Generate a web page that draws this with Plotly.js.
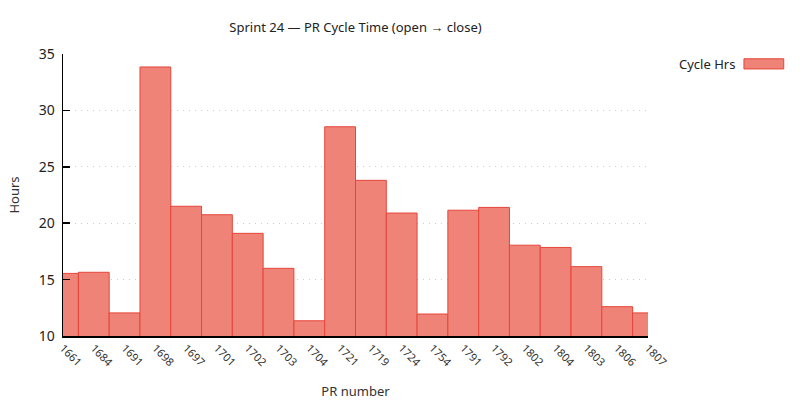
<!DOCTYPE html>
<html>
<head>
<meta charset="utf-8">
<script src="https://cdn.plot.ly/plotly-3.0.1.min.js"></script>
<style>
  html, body { margin: 0; padding: 0; background: #fff; }
  #myDiv { width: 800px; height: 400px; }
</style>
</head>
<body>
<div id="myDiv"></div>
<script>
// PR numbers, in the order shown on the axis
var prNumbers = ['1661', '1684', '1691', '1698', '1697', '1701', '1702', '1703', '1704', '1721',
                 '1719', '1724', '1754', '1791', '1792', '1802', '1804', '1803', '1806', '1807'];
// cycle time in hours (open -> close)
var cycleHrs = [15.55, 15.65, 12.05, 33.85, 21.5, 20.75, 19.1, 16.0, 11.35, 28.55,
                23.8, 20.9, 11.95, 21.15, 21.4, 18.05, 17.85, 16.15, 12.6, 12.05];
var seriesName = 'Cycle Hrs';

var fillColor = '#EF8377';
var edgeColor = '#E5463A';
var font = 'Noto Sans, Open Sans, sans-serif';

var trace1 = {
    type: 'bar',
    name: seriesName,
    x: prNumbers,
    y: cycleHrs,
    marker: {color: fillColor, line: {color: edgeColor, width: 1}},
    showlegend: false,
    hoverinfo: 'x+y'
};

var layout = {
    width: 800,
    height: 400,
    margin: {l: 63, r: 152, t: 54, b: 64},
    paper_bgcolor: '#fff',
    plot_bgcolor: '#fff',
    font: {family: font, size: 13, color: '#222'},
    bargap: 0,
    title: {
        text: 'Sprint 24 — PR Cycle Time (open → close)',
        font: {size: 13, color: '#222'},
        x: 0.5, xref: 'paper', xanchor: 'center',
        y: 0.932, yref: 'container', yanchor: 'middle'
    },
    xaxis: {
        type: 'category',
        range: [0, prNumbers.length - 1],
        tickangle: 45,
        tickfont: {size: 11, color: '#333'},
        ticks: '',
        showgrid: false,
        showline: true,
        linecolor: '#000',
        linewidth: 1.5,
        zeroline: false,
        title: {text: 'PR number', font: {size: 13, color: '#333'}, standoff: 18}
    },
    yaxis: {
        range: [10, 35],
        dtick: 5,
        ticks: 'inside',
        ticklen: 7,
        tickwidth: 1.5,
        tickcolor: '#000',
        ticklabelstandoff: 4,
        tickfont: {size: 14, color: '#222'},
        showline: true,
        linecolor: '#000',
        linewidth: 1.5,
        showgrid: true,
        gridcolor: '#cccccc',
        griddash: '1px,5px',
        gridwidth: 1,
        zeroline: false,
        title: {text: 'Hours', font: {size: 13, color: '#333'}, standoff: 16}
    },
    annotations: [{
        text: seriesName,
        xref: 'paper', yref: 'paper',
        x: 1.152, y: 0.965,
        xanchor: 'right', yanchor: 'middle',
        showarrow: false,
        font: {size: 13, color: '#222'}
    }],
    shapes: [{
        type: 'rect',
        xref: 'paper', yref: 'paper',
        x0: 1.164, x1: 1.232,
        y0: 0.947, y1: 0.983,
        fillcolor: fillColor,
        line: {color: edgeColor, width: 1}
    }]
};

Plotly.newPlot('myDiv', [trace1], layout, {displayModeBar: false, staticPlot: true});
</script>
</body>
</html>
